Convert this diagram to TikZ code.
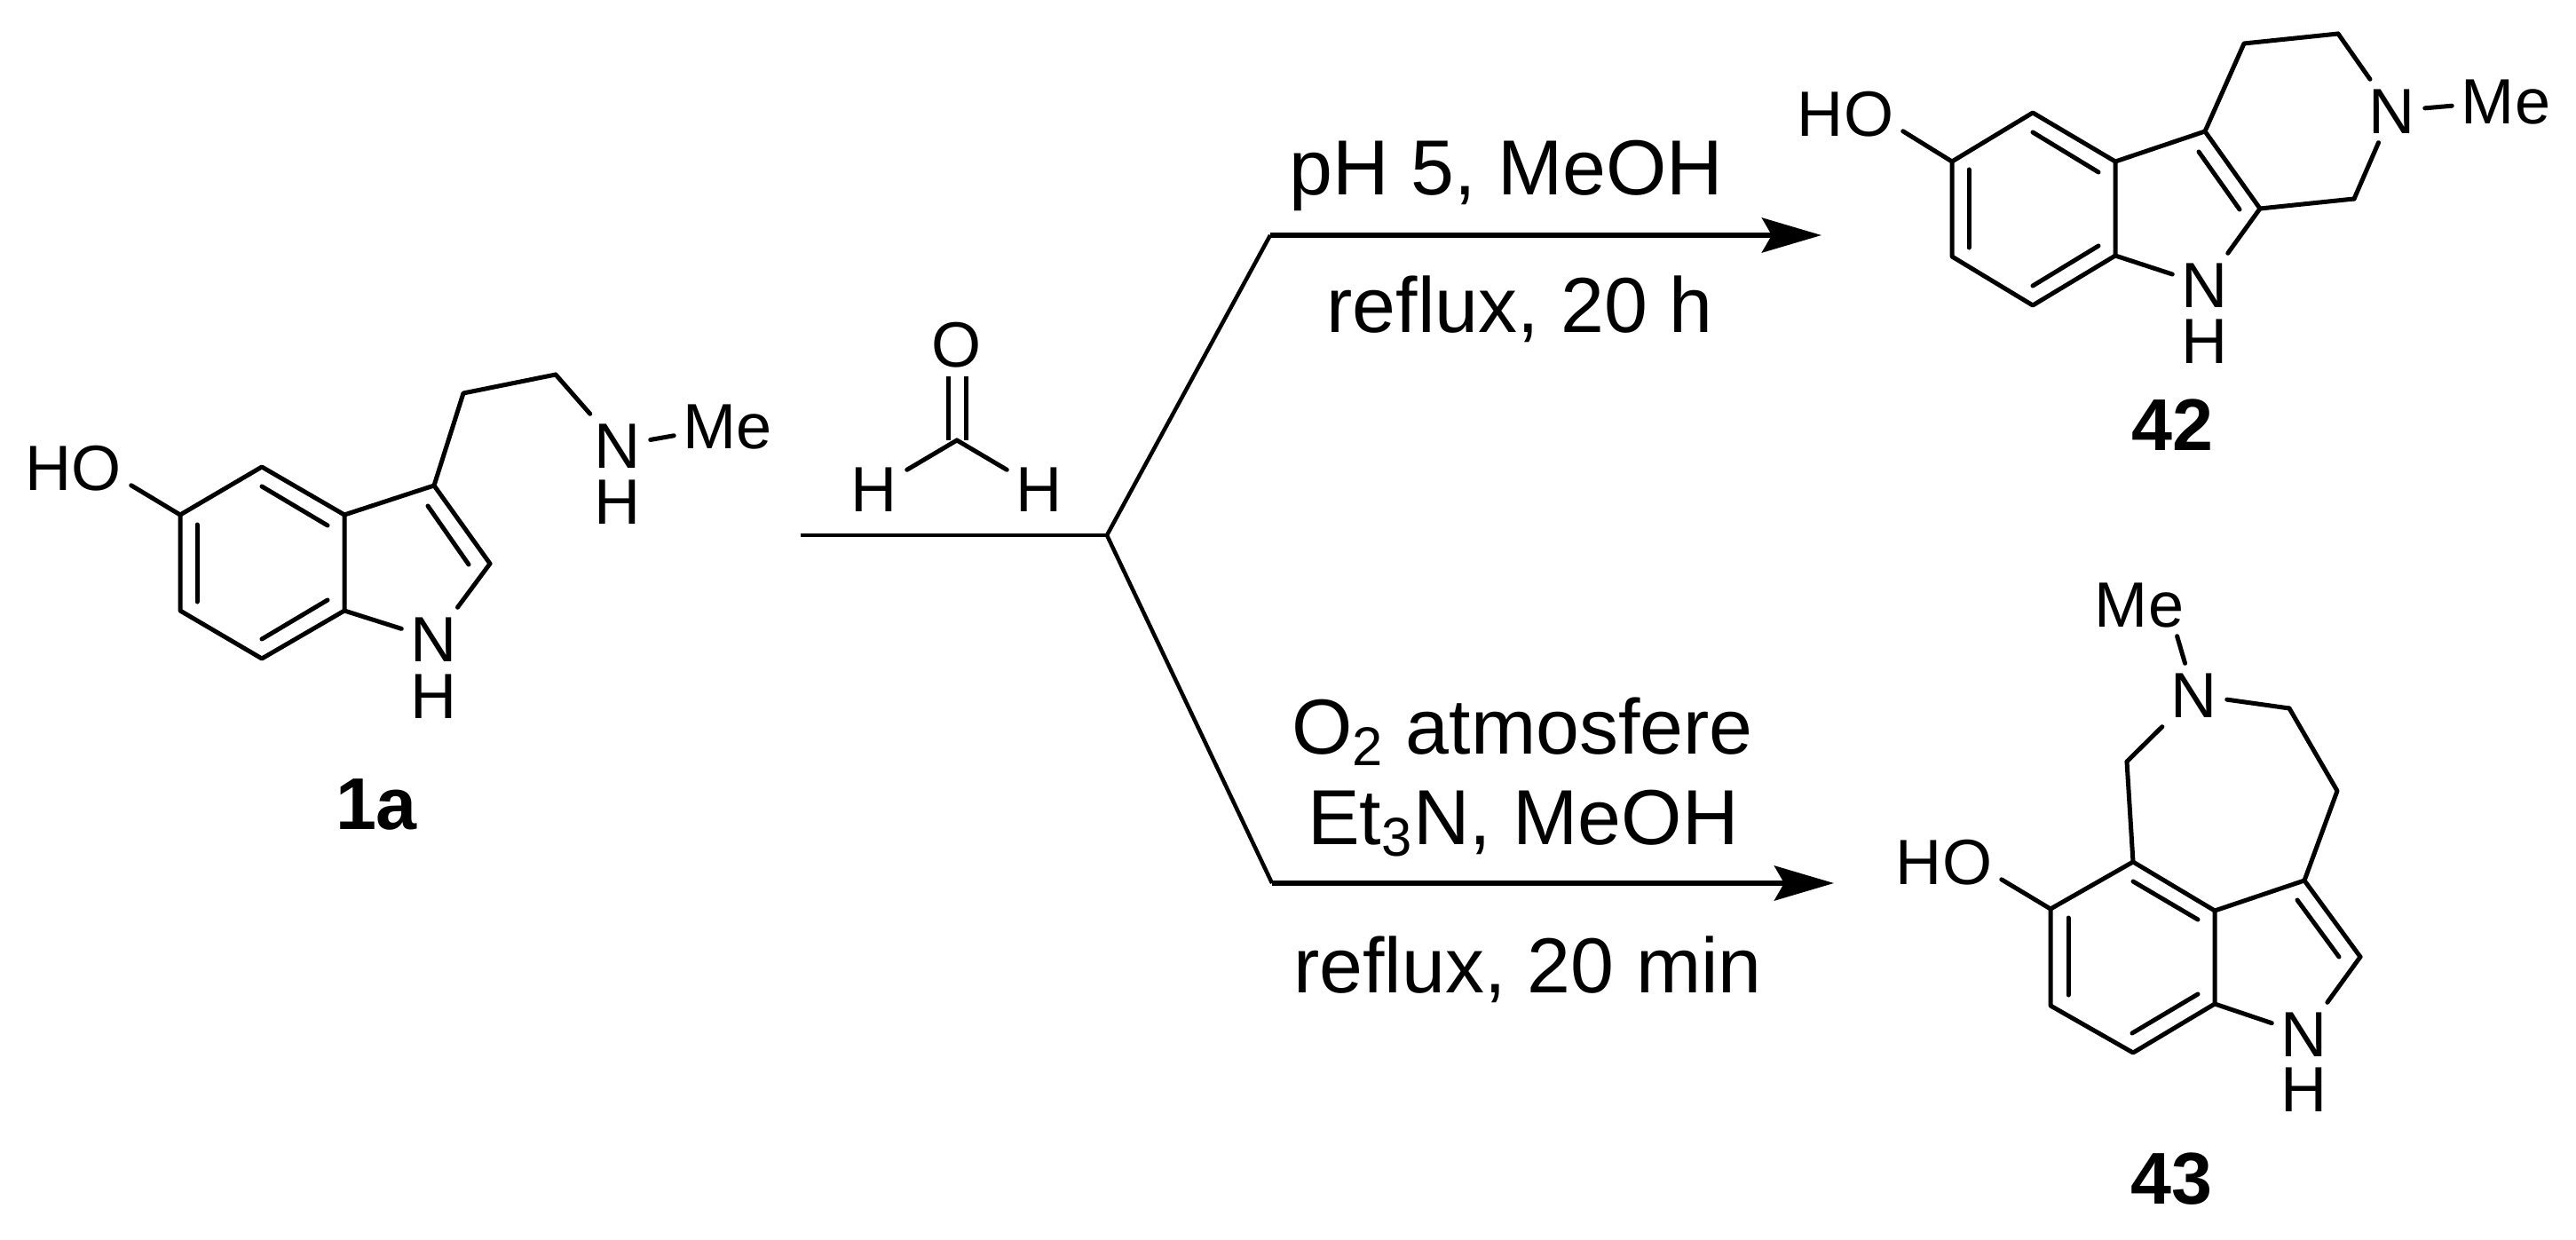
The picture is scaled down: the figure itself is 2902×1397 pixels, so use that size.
\documentclass[tikz,border=0pt]{standalone}
\usepackage{fontspec}
\setmainfont{Liberation Sans}
\usetikzlibrary{arrows.meta}

\begin{document}
\begin{tikzpicture}[
  x = 0.01cm, y = -0.01cm,
  atom/.style={inner sep=0.1cm, text height=0.5cm, text depth=0pt, font=\fontsize{20.5}{24}\selectfont},
  compound/.style={inner sep=0pt, font=\fontsize{23.5}{28}\selectfont\bfseries},
  condition/.style={anchor=base, inner sep=0pt, font=\fontsize{25}{30}\selectfont},
  bond/.style={line width=0.05cm, line join=round, line cap=round, color=black},
  fork/.style={line width=0.045cm, line join=round, color=black},
  arrow/.style={-{Stealth[length=0.67cm, width=0.39cm, inset=0.11cm]}, line width=0.06cm, color=black}
]
    \useasboundingbox (0, 0) rectangle (2902, 1397);

    % Tryptamine 1a
    \coordinate (a1) at (203, 580); \coordinate (a2) at (295, 526);
    \coordinate (a3) at (388, 580); \coordinate (a4) at (388, 688);
    \coordinate (a5) at (295, 742); \coordinate (a6) at (203, 688);
    \coordinate (a7) at (489, 547); \coordinate (a8) at (552, 635);
    \coordinate (a9) at (522, 443); \coordinate (a10) at (626, 422);
    \coordinate (a11) at (222, 591); \coordinate (a12) at (222, 678);
    \coordinate (a13) at (295, 548); \coordinate (a14) at (369, 592);
    \coordinate (a15) at (369, 676); \coordinate (a16) at (295, 720);
    \coordinate (a17) at (482, 570); \coordinate (a18) at (528, 636);
    \node (hoa) at (83, 527) [atom] {HO};
    \node (na) at (489, 720) [atom] {N};
    \node (nah) at (489, 784) [atom] {H};
    \node (nb) at (696, 502) [atom] {N};
    \node (nbh) at (696, 565) [atom] {H};
    \node (mea) at (820, 480) [atom] {Me};
    \node (cpda) at (424, 906) [compound] {1a};
    \draw[bond] (a1) -- (a2) -- (a3) -- (a4) -- (a5) -- (a6) -- cycle;
    \draw[bond] (a11) -- (a12);
    \draw[bond] (a13) -- (a14);
    \draw[bond] (a15) -- (a16);
    \draw[bond] (a17) -- (a18);
    \draw[bond] (a3) -- (a7) -- (a8);
    \draw[bond] (a8) -- (na);
    \draw[bond] (a4) -- (na);
    \draw[bond] (a1) -- (hoa.-17);
    \draw[bond] (a7) -- (a9) -- (a10);
    \draw[bond] (a10) -- (nb);
    \draw[bond] (nb) -- (mea);

    % Formaldehyde
    \coordinate (fc) at (1078, 496);
    \node (fo) at (1078, 388) [atom] {O};
    \node (fh1) at (985, 551) [atom] {H};
    \node (fh2) at (1171, 551) [atom] {H};
    \draw[bond, double, double distance=0.15cm, line cap=butt] (fo) -- (fc);
    \draw[bond] (fc) -- (fh1);
    \draw[bond] (fc) -- (fh2);

    % Reaction arrows
    \coordinate (start) at (902, 603);
    \coordinate (split) at (1247, 603);
    \coordinate (up) at (1431, 265);
    \coordinate (uptip) at (2052, 265);
    \coordinate (down) at (1433, 995);
    \coordinate (downtip) at (2066, 995);
    \draw[fork] (start) -- (split);
    \draw[fork] (split) -- (up);
    \draw[fork] (split) -- (down);
    \draw[arrow] (up) -- (uptip);
    \draw[arrow] (down) -- (downtip);

    % Conditions
    \node (cond1) at (1697, 220) [condition] {pH 5, MeOH};
    \node (cond2) at (1712, 374) [condition] {reflux, 20 h};
    \node (cond3) at (1715, 849) [condition] {O\textsubscript{2} atmosfere};
    \node (cond4) at (1716, 951) [condition] {Et\textsubscript{3}N, MeOH};
    \node (cond5) at (1721, 1118) [condition] {reflux, 20 min};

    % Product 42
    \coordinate (b1) at (2199, 182); \coordinate (b2) at (2290, 127);
    \coordinate (b3) at (2383, 182); \coordinate (b4) at (2383, 288);
    \coordinate (b5) at (2290, 344); \coordinate (b6) at (2199, 289);
    \coordinate (b7) at (2484, 148); \coordinate (b8) at (2546, 235);
    \coordinate (b9) at (2528, 49); \coordinate (b10) at (2634, 38);
    \coordinate (b11) at (2652, 224);
    \coordinate (b12) at (2218, 191); \coordinate (b13) at (2218, 279);
    \coordinate (b14) at (2290, 149); \coordinate (b15) at (2364, 194);
    \coordinate (b16) at (2364, 277); \coordinate (b17) at (2290, 322);
    \coordinate (b18) at (2477, 171); \coordinate (b19) at (2523, 236);
    \node (hob) at (2079, 128) [atom] {HO};
    \node (nc) at (2484, 321) [atom] {N};
    \node (nch) at (2484, 384) [atom] {H};
    \node (nd) at (2695, 125) [atom] {N};
    \node (meb) at (2823, 114) [atom] {Me};
    \node (cpdb) at (2447, 479) [compound] {42};
    \draw[bond] (b1) -- (b2) -- (b3) -- (b4) -- (b5) -- (b6) -- cycle;
    \draw[bond] (b12) -- (b13);
    \draw[bond] (b14) -- (b15);
    \draw[bond] (b16) -- (b17);
    \draw[bond] (b18) -- (b19);
    \draw[bond] (b3) -- (b7) -- (b8);
    \draw[bond] (b8) -- (nc);
    \draw[bond] (b4) -- (nc);
    \draw[bond] (b1) -- (hob.-17);
    \draw[bond] (b7) -- (b9) -- (b10);
    \draw[bond] (b10) -- (nd);
    \draw[bond] (b8) -- (b11);
    \draw[bond] (b11) -- (nd);
    \draw[bond] (nd) -- (meb);

    % Product 43
    \coordinate (c1) at (2310, 1024); \coordinate (c2) at (2403, 971);
    \coordinate (c3) at (2495, 1026); \coordinate (c4) at (2495, 1131);
    \coordinate (c5) at (2403, 1186); \coordinate (c6) at (2310, 1133);
    \coordinate (c7) at (2596, 992); \coordinate (c8) at (2659, 1078);
    \coordinate (c9) at (2633, 891); \coordinate (c10) at (2579, 798);
    \coordinate (c11) at (2396, 858);
    \coordinate (c12) at (2330, 1034); \coordinate (c13) at (2330, 1121);
    \coordinate (c14) at (2403, 993); \coordinate (c15) at (2476, 1036);
    \coordinate (c16) at (2476, 1120); \coordinate (c17) at (2402, 1164);
    \coordinate (c18) at (2588, 1014); \coordinate (c19) at (2635, 1078);
    \node (hoc) at (2190, 971) [atom] {HO};
    \node (ne) at (2596, 1165) [atom] {N};
    \node (neh) at (2596, 1227) [atom] {H};
    \node (nf) at (2472, 783) [atom] {N};
    \node (mec) at (2410, 681) [atom] {Me};
    \node (cpdc) at (2446, 1328) [compound] {43};
    \draw[bond] (c1) -- (c2) -- (c3) -- (c4) -- (c5) -- (c6) -- cycle;
    \draw[bond] (c12) -- (c13);
    \draw[bond] (c14) -- (c15);
    \draw[bond] (c16) -- (c17);
    \draw[bond] (c18) -- (c19);
    \draw[bond] (c3) -- (c7) -- (c8);
    \draw[bond] (c8) -- (ne);
    \draw[bond] (c4) -- (ne);
    \draw[bond] (c1) -- (hoc.-17);
    \draw[bond] (c7) -- (c9) -- (c10);
    \draw[bond] (c10) -- (nf);
    \draw[bond] (c2) -- (c11);
    \draw[bond] (c11) -- (nf);
    \draw[bond] (nf) -- (mec.-40);
\end{tikzpicture}
\end{document}
